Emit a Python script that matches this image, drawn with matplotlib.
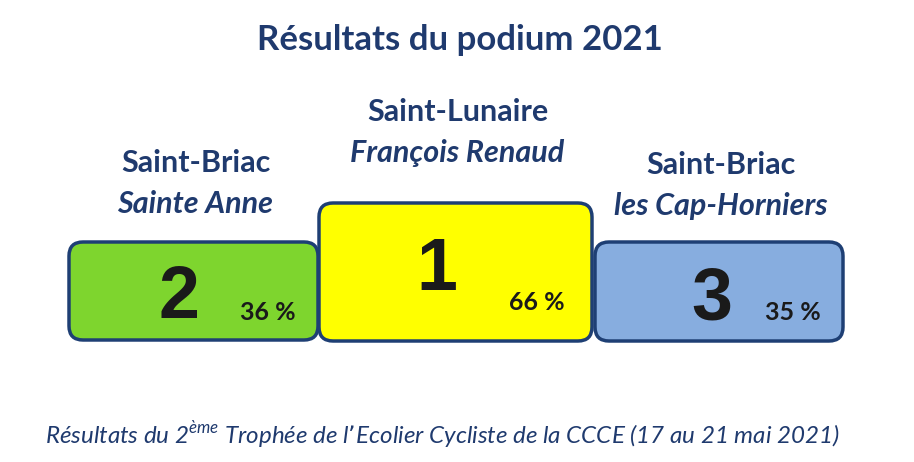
import matplotlib.pyplot as plt
from matplotlib.patches import FancyBboxPatch

# ─── DATA ───────────────────────────────────────────────────
ranks = ["2", "1", "3"]
towns = ["Saint-Briac", "Saint-Lunaire", "Saint-Briac"]
schools = ["Sainte Anne", "François Renaud", "les Cap-Horniers"]
scores = ["36 %", "66 %", "35 %"]
fills = ["#7ED52E", "#FFFF00", "#87ADDF"]

title = "Résultats du podium 2021"

NAVY = "#1F3A6E"
EDGE = "#1E3F74"
SANS = ["Lato", "DejaVu Sans"]

# ─── LAYOUT (pixels) ────────────────────────────────────────
# left, right, top, bottom of each podium block
boxes = [(69, 318, 242, 340), (319, 592, 203, 341), (595, 843, 242, 341)]
num_xy = [(179, 298), (437, 270), (712, 300)]
pct_xy = [(268, 312), (537, 303), (793, 312)]
lbl_y = [(163, 204), (112, 153), (165, 206)]

fig = plt.figure(figsize=(9.14, 4.62), dpi=100)
ax = fig.add_axes([0, 0, 1, 1])
ax.set_xlim(0, 914)
ax.set_ylim(462, 0)
ax.axis("off")

ax.text(460, 40, title, ha="center", va="center", fontsize=25,
        fontweight="bold", color=NAVY, family=SANS)

for i in range(3):
    l, r, t, b = boxes[i]
    pad = 14
    patch = FancyBboxPatch((l + pad, t + pad), (r - l) - 2 * pad, (b - t) - 2 * pad,
                           boxstyle=f"round,pad={pad}", facecolor=fills[i],
                           edgecolor=EDGE, linewidth=2.5, zorder=2)
    ax.add_patch(patch)
    cx = (l + r) / 2
    ax.text(cx + 2, lbl_y[i][0], towns[i], ha="center", va="center", fontsize=22,
            fontweight="bold", color=NAVY, family=SANS)
    ax.text(cx + 2, lbl_y[i][1], schools[i], ha="center", va="center", fontsize=22,
            fontweight="bold", style="italic", color=NAVY, family=SANS)
    ax.text(num_xy[i][0], num_xy[i][1], ranks[i], ha="center", va="center",
            fontsize=53, fontweight="bold", color="#1A1A1A",
            family=["Liberation Sans", "DejaVu Sans"], zorder=3)
    ax.text(pct_xy[i][0], pct_xy[i][1], scores[i], ha="center", va="center",
            fontsize=18, fontweight="bold", color="#1A1A1A", family=SANS, zorder=3)

ax.text(442.5, 435,
        r"Résultats du 2$^{\mathregular{ème}}$ Trophée de l’Ecolier Cycliste de la CCCE (17 au 21 mai 2021)",
        ha="center", va="center", fontsize=17.4, style="italic", color=NAVY, family=SANS)

fig.savefig("out.png", dpi=100)
